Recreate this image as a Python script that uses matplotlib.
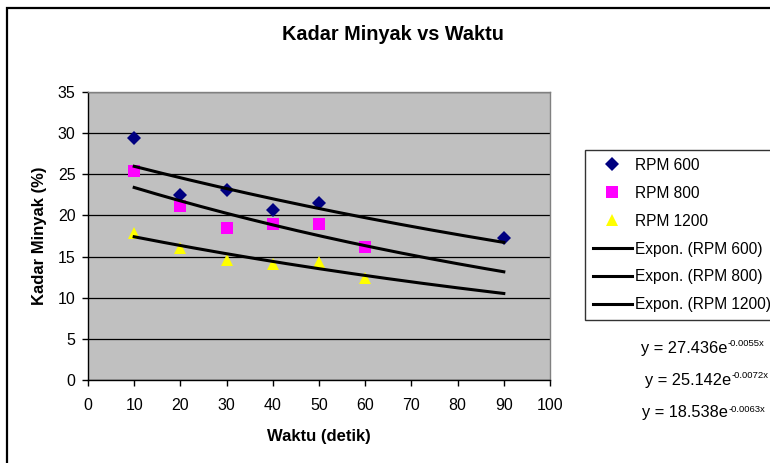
import numpy as np
import matplotlib
matplotlib.use("Agg")
import matplotlib.pyplot as plt
from matplotlib.lines import Line2D
from matplotlib.patches import Rectangle

plt.rcParams['font.family'] = ['Liberation Sans', 'DejaVu Sans']

# ---- data ----
waktu_600 = [10, 20, 30, 40, 50, 90]
kadar_600 = [29.4, 22.5, 23.1, 20.6, 21.5, 17.3]
waktu_800 = [10, 20, 30, 40, 50, 60]
kadar_800 = [25.4, 21.2, 18.5, 19.0, 19.0, 16.2]
waktu_1200 = [10, 20, 30, 40, 50, 60]
kadar_1200 = [17.9, 16.1, 14.6, 14.1, 14.3, 12.4]

series_names = ["RPM 600", "RPM 800", "RPM 1200"]
fit_a = [27.436, 25.142, 18.538]
fit_b = [-0.0055, -0.0072, -0.0063]
fit_range = [10, 90]
eq_base = ["y = 27.436e", "y = 25.142e", "y = 18.538e"]
eq_exp = ["-0.0055x", "-0.0072x", "-0.0063x"]

x_ticks = list(range(0, 101, 10))
y_ticks = list(range(0, 36, 5))

W, H = 770, 463
fig = plt.figure(figsize=(W / 100, H / 100), dpi=100)

def fx(px):
    return px / W

def fy(py):
    return 1 - py / H

# outer chart border
fig.patches.append(Rectangle((fx(7), fy(470)), fx(790) - fx(7), fy(8) - fy(470),
                             transform=fig.transFigure, fill=False, edgecolor='black',
                             linewidth=1.6, zorder=0))

ax = fig.add_axes([fx(88), fy(380), fx(550) - fx(88), fy(92) - fy(380)])
ax.set_facecolor('#C0C0C0')
ax.set_xlim(0, 100)
ax.set_ylim(0, 35)
ax.set_xticks(x_ticks)
ax.set_yticks(y_ticks)
ax.tick_params(axis='both', labelsize=11.5, direction='out', length=4, width=1, colors='black')
ax.tick_params(axis='x', pad=9)
ax.tick_params(axis='y', pad=5)
ax.yaxis.grid(True, color='black', linewidth=0.9)
ax.set_axisbelow(True)
for s in ['left', 'bottom']:
    ax.spines[s].set_color('black')
    ax.spines[s].set_linewidth(1.0)
for s in ['top', 'right']:
    ax.spines[s].set_color('#808080')
    ax.spines[s].set_linewidth(1.0)

colors = ['#000080', '#FF00FF', '#FFFF00']
markers = ['D', 's', '^']
msizes = [7, 8, 9]
xs = [waktu_600, waktu_800, waktu_1200]
ys = [kadar_600, kadar_800, kadar_1200]

handles = []
for i in range(3):
    h = ax.plot(xs[i], ys[i], linestyle='none', marker=markers[i], color=colors[i],
                markersize=msizes[i], markeredgewidth=0, label=series_names[i], zorder=3)[0]
    handles.append(h)

xf = np.linspace(fit_range[0], fit_range[1], 200)
for i in range(3):
    ax.plot(xf, fit_a[i] * np.exp(fit_b[i] * xf), color='black', linewidth=2.2, zorder=4)

for i in range(3):
    handles.append(Line2D([], [], color='black', linewidth=2.2,
                          label="Expon. (" + series_names[i] + ")"))

leg = fig.legend(handles=handles, loc='upper left', bbox_to_anchor=(fx(585), fy(150)),
                 frameon=True, fancybox=False, shadow=False, fontsize=11.2,
                 handlelength=2.5, handletextpad=0.2, borderpad=0.5,
                 labelspacing=0.83, borderaxespad=0, markerscale=1.0)
leg.get_frame().set_edgecolor('black')
leg.get_frame().set_linewidth(1.0)

fig.text(fx(393), fy(34), "Kadar Minyak vs Waktu", fontsize=14.3, fontweight='bold',
         ha='center', va='center')
fig.text(fx(40), fy(236), "Kadar Minyak (%)", fontsize=12, fontweight='bold',
         rotation=90, ha='center', va='center')
fig.text(fx(319), fy(437), "Waktu (detik)", fontsize=12, fontweight='bold',
         ha='center', va='center')

eq_x = [641, 645, 642]
eq_y = [348, 380, 413]
for i in range(3):
    t = fig.text(fx(eq_x[i]), fy(eq_y[i]), eq_base[i], fontsize=11.8, ha='left', va='center')
    fig.canvas.draw()
    ann = fig.text(0, 0, eq_exp[i], fontsize=6.8, ha='left', va='top')
    bb = t.get_window_extent(renderer=fig.canvas.get_renderer())
    inv = fig.transFigure.inverted()
    x1, y1 = inv.transform((bb.x1 + 0.3, bb.y1 + 1))
    ann.set_position((x1, y1))

fig.savefig('out.png', dpi=100)
